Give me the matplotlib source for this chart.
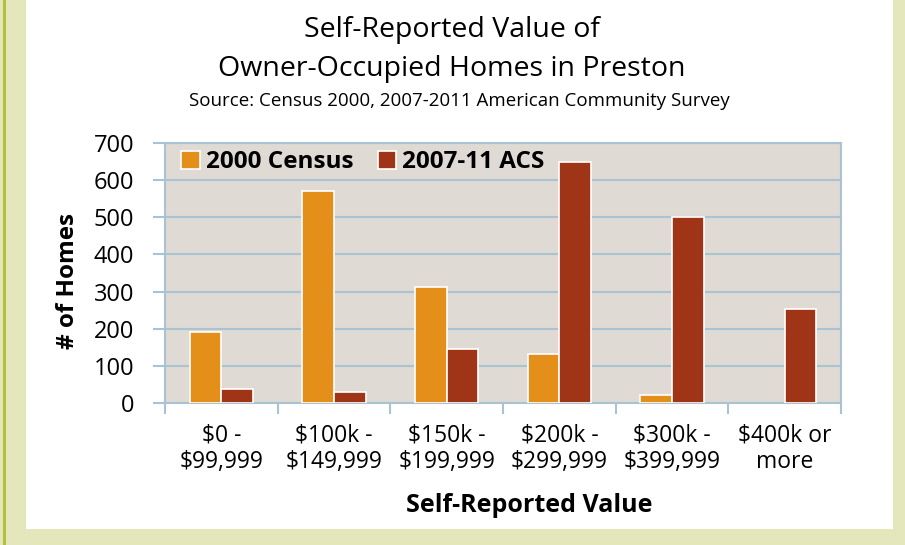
import matplotlib.pyplot as plt
import matplotlib.patches as mpatches
import numpy as np

plt.rcParams['font.family'] = ['Open Sans', 'DejaVu Sans']

# Data
categories = ['$0 -\n$99,999', '$100k -\n$149,999', '$150k -\n$199,999',
              '$200k -\n$299,999', '$300k -\n$399,999', '$400k or\nmore']
census_2000 = [190, 571, 311, 131, 22, 0]
acs_2007_11 = [37, 29, 145, 648, 500, 252]
y_ticks = [0, 100, 200, 300, 400, 500, 600, 700]

orange = '#E58F1B'
darkred = '#A03416'
gridblue = '#A9C3D3'

fig = plt.figure(figsize=(9.05, 5.45), dpi=100)
fig.patch.set_facecolor('#E3E7BB')

# white panel and left stripe
fig.patches.append(mpatches.Rectangle((26 / 905, 1 - 529 / 545), (893 - 26) / 905, 529 / 545,
                                      transform=fig.transFigure, facecolor='white',
                                      edgecolor='none', zorder=-10))
fig.patches.append(mpatches.Rectangle((3 / 905, 0), 2.5 / 905, 1,
                                      transform=fig.transFigure, facecolor='#B3C03C',
                                      edgecolor='none', zorder=-10))

ax = fig.add_axes([165 / 905, 1 - 403 / 545, (841 - 165) / 905, (403 - 143) / 545])
ax.set_facecolor('#DFDAD3')

x = np.arange(len(categories))
w = 0.28
# no outline on empty bars
lw_c = [1.2 if v > 0 else 0 for v in census_2000]
lw_a = [1.2 if v > 0 else 0 for v in acs_2007_11]
ax.bar(x - w / 2, census_2000, w, color=orange, edgecolor='white', linewidth=lw_c,
       label='2000 Census', zorder=3)
ax.bar(x + w / 2, acs_2007_11, w, color=darkred, edgecolor='white', linewidth=lw_a,
       label='2007-11 ACS', zorder=3)

ax.set_xlim(-0.5, len(categories) - 0.5)
ax.set_ylim(0, 700)
ax.set_yticks(y_ticks)
ax.set_yticklabels([str(v) for v in y_ticks], fontsize=17)
ax.yaxis.grid(True, color=gridblue, linewidth=1.5, zorder=1)
ax.set_axisbelow(True)

# x ticks at category boundaries, labels at centers
ax.set_xticks(np.arange(-0.5, len(categories)), minor=False)
ax.set_xticklabels([''] * (len(categories) + 1))
ax.set_xticks(x, minor=True)
ax.set_xticklabels(categories, minor=True, fontsize=16.5, linespacing=1.1)
ax.tick_params(axis='x', which='minor', length=0, pad=15)
ax.tick_params(axis='x', which='major', length=8, width=1.5, color=gridblue)
ax.tick_params(axis='y', length=9, width=1.5, color=gridblue, pad=13)

for s in ax.spines.values():
    s.set_color(gridblue)
    s.set_linewidth(1.5)

fig.text(68 / 905, 1 - 281 / 545, '# of Homes', rotation=90, fontsize=17.5,
         fontweight='bold', ha='center', va='center')
fig.text(529 / 905, 1 - 505 / 545, 'Self-Reported Value', fontsize=18,
         fontweight='bold', ha='center', va='center')

fig.text(452 / 905, 1 - 30 / 545, 'Self-Reported Value of', fontsize=20.5,
         ha='center', va='center')
fig.text(452 / 905, 1 - 69 / 545, 'Owner-Occupied Homes in Preston', fontsize=20.5,
         ha='center', va='center')
fig.text(459 / 905, 1 - 101 / 545, 'Source: Census 2000, 2007-2011 American Community Survey',
         fontsize=13.5, ha='center', va='center')

leg = ax.legend(loc='upper left', ncol=2, frameon=False, prop={'weight': 'bold', 'size': 17.5},
                handlelength=0.75, handleheight=0.75, handletextpad=0.25, columnspacing=1.0,
                borderaxespad=0.0, bbox_to_anchor=(0.01, 1.01))

fig.savefig('out.png', dpi=100, facecolor=fig.get_facecolor())
